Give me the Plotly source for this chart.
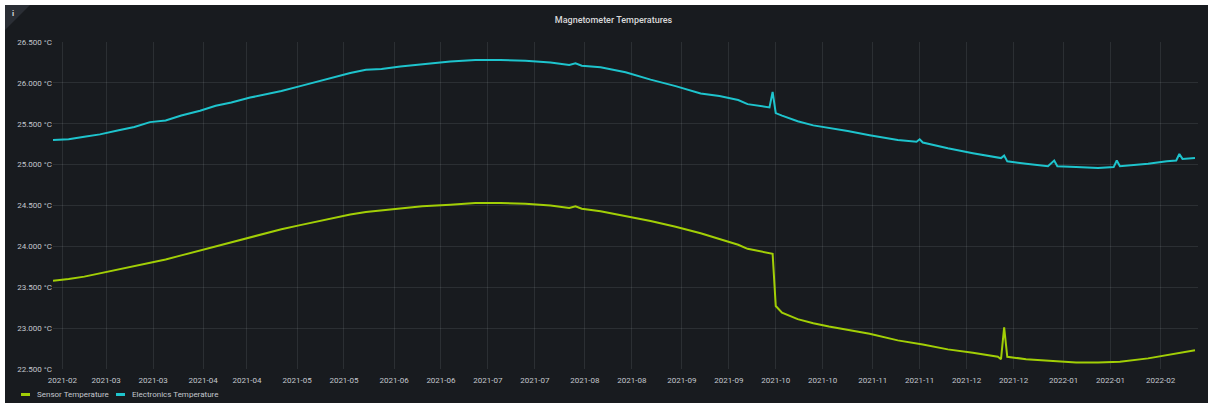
import plotly.graph_objects as go

# ---------------- data ----------------
dates = [
    "2021-02-12", "2021-02-17", "2021-02-22", "2021-02-27", "2021-03-05", "2021-03-10",
    "2021-03-15", "2021-03-20", "2021-03-25", "2021-03-31", "2021-04-05", "2021-04-10",
    "2021-04-16", "2021-04-21", "2021-04-26", "2021-05-02", "2021-05-07", "2021-05-12",
    "2021-05-18", "2021-05-23", "2021-05-28", "2021-06-03", "2021-06-10", "2021-06-19",
    "2021-06-27", "2021-07-05", "2021-07-13", "2021-07-21", "2021-07-27", "2021-07-29",
    "2021-07-31", "2021-08-06", "2021-08-14", "2021-08-22", "2021-08-30", "2021-09-07",
    "2021-09-13", "2021-09-19", "2021-09-22", "2021-09-26", "2021-09-29", "2021-09-30",
    "2021-10-01", "2021-10-03", "2021-10-08", "2021-10-13", "2021-10-18", "2021-10-24",
    "2021-10-31", "2021-11-09", "2021-11-15", "2021-11-16", "2021-11-17", "2021-11-25",
    "2021-12-03", "2021-12-11", "2021-12-12", "2021-12-13", "2021-12-14", "2021-12-20",
    "2021-12-27", "2021-12-29", "2021-12-30", "2022-01-05", "2022-01-12", "2022-01-17",
    "2022-01-18", "2022-01-19", "2022-01-28", "2022-02-03", "2022-02-06", "2022-02-07",
    "2022-02-08", "2022-02-12",
]

electronics_temp = [
    25.30, 25.31, 25.34, 25.37, 25.42, 25.46,
    25.52, 25.54, 25.60, 25.66, 25.72, 25.76,
    25.82, 25.86, 25.90, 25.96, 26.01, 26.06,
    26.12, 26.16, 26.17, 26.20, 26.23, 26.26,
    26.28, 26.28, 26.27, 26.25, 26.22, 26.24,
    26.21, 26.19, 26.13, 26.04, 25.96, 25.87,
    25.84, 25.79, 25.74, 25.72, 25.70, 25.89,
    25.63, 25.60, 25.53, 25.48, 25.45, 25.41,
    25.36, 25.30, 25.28, 25.31, 25.27, 25.20,
    25.14, 25.09, 25.08, 25.11, 25.04, 25.01,
    24.98, 25.05, 24.98, 24.97, 24.96, 24.97,
    25.05, 24.98, 25.01, 25.04, 25.05, 25.13,
    25.07, 25.08,
]

sensor_temp = [
    23.58, 23.60, 23.63, 23.67, 23.72, 23.76,
    23.80, 23.84, 23.89, 23.95, 24.00, 24.05,
    24.11, 24.16, 24.21, 24.26, 24.30, 24.34,
    24.39, 24.42, 24.44, 24.47, 24.49, 24.51,
    24.53, 24.53, 24.52, 24.50, 24.47, 24.49,
    24.46, 24.43, 24.37, 24.31, 24.24, 24.16,
    24.09, 24.02, 23.97, 23.94, 23.92, 23.91,
    23.27, 23.19, 23.11, 23.06, 23.02, 22.98,
    22.93, 22.85, 22.81, 22.81, 22.80, 22.74,
    22.70, 22.65, 22.62, 23.01, 22.65, 22.62,
    22.60, 22.60, 22.59, 22.58, 22.58, 22.59,
    22.59, 22.59, 22.63, 22.67, 22.69, 22.70,
    22.70, 22.73,
]

x_tick_dates = [
    "2021-02-15", "2021-03-01", "2021-03-16", "2021-04-01", "2021-04-15", "2021-05-01",
    "2021-05-16", "2021-06-01", "2021-06-16", "2021-07-01", "2021-07-16", "2021-08-01",
    "2021-08-16", "2021-09-01", "2021-09-16", "2021-10-01", "2021-10-16", "2021-11-01",
    "2021-11-16", "2021-12-01", "2021-12-16", "2022-01-01", "2022-01-16", "2022-02-01",
]
y_tick_vals = [22.5, 23.0, 23.5, 24.0, 24.5, 25.0, 25.5, 26.0, 26.5]
y_tick_text = [f"{v:.3f} °C" for v in y_tick_vals]

series_names = ["Sensor Temperature", "Electronics Temperature"]
series_colors = ["#a2cf06", "#1ec4cd"]

# ---------------- layout helpers ----------------
W, H = 1208, 403
ML, MR, MT, MB = 53, 10, 42, 34
PW, PH = W - ML - MR, H - MT - MB


def px_x(px):
    return (px - ML) / PW


def px_y(py):
    return (H - MB - py) / PH


BG = "#181b1f"
GRID = "rgba(240,250,255,0.09)"
TXT = "#c3c7ce"
FONT = "Roboto"

fig = go.Figure()
fig.add_trace(go.Scatter(x=dates, y=sensor_temp, mode="lines", name=series_names[0],
                         line=dict(color=series_colors[0], width=2)))
fig.add_trace(go.Scatter(x=dates, y=electronics_temp, mode="lines", name=series_names[1],
                         line=dict(color=series_colors[1], width=2)))

fig.update_layout(
    width=W, height=H,
    margin=dict(l=ML, r=MR, t=MT, b=MB, autoexpand=False),
    paper_bgcolor=BG, plot_bgcolor=BG,
    showlegend=False,
    font=dict(family=FONT, size=8, color=TXT),
    title=dict(text="Magnetometer Temperatures", x=613.5 / W, xref="container", xanchor="center",
               y=1 - 20 / H, yref="container", yanchor="middle",
               font=dict(family=FONT, size=9, color="#d8d9da", weight=500)),
)

fig.update_xaxes(
    type="date", range=["2021-02-12 00:00", "2022-02-12 23:00"],
    tickvals=x_tick_dates, tickformat="%Y-%m",
    showgrid=True, gridcolor=GRID, gridwidth=1,
    zeroline=False, showline=False, ticks="",
    ticklabelstandoff=5, automargin=False,
    tickfont=dict(family=FONT, size=8, color=TXT),
)
fig.update_yaxes(
    range=[22.5, 26.5], tickvals=y_tick_vals, ticktext=y_tick_text,
    showgrid=True, gridcolor=GRID, gridwidth=1,
    zeroline=False, showline=False, ticks="", automargin=False,
    tickfont=dict(family=FONT, size=8, color=TXT),
)

shapes = []
annotations = []
# white frame strips around the panel (top and left)
shapes.append(dict(type="rect", xref="paper", yref="paper", x0=px_x(0), x1=px_x(5),
                   y0=px_y(H), y1=px_y(0), fillcolor="#ffffff", line=dict(width=0), layer="above"))
shapes.append(dict(type="rect", xref="paper", yref="paper", x0=px_x(0), x1=px_x(W),
                   y0=px_y(5), y1=px_y(0), fillcolor="#ffffff", line=dict(width=0), layer="above"))
# panel info corner
shapes.append(dict(type="path", xref="paper", yref="paper",
                   path=f"M {px_x(5)},{px_y(5)} L {px_x(30)},{px_y(5)} L {px_x(5)},{px_y(30)} Z",
                   fillcolor="#2a2e35", line=dict(width=0), layer="above"))
annotations.append(dict(text="i", xref="paper", yref="paper", x=px_x(12.5), y=px_y(13),
                        xanchor="center", yanchor="middle", showarrow=False,
                        font=dict(family=FONT, size=8, color="#d8d9da", weight=700)))

# custom legend (Grafana-style short bars)
legend_items = [(21, 35), (116, 130)]
for (bx, tx), name, col in zip(legend_items, series_names, series_colors):
    shapes.append(dict(type="rect", xref="paper", yref="paper", x0=px_x(bx), x1=px_x(bx + 9),
                       y0=px_y(396), y1=px_y(393), fillcolor=col, line=dict(width=0)))
    annotations.append(dict(text=name, xref="paper", yref="paper", x=px_x(tx), y=px_y(394.5),
                            xanchor="left", yanchor="middle", showarrow=False,
                            font=dict(family=FONT, size=8, color=TXT)))

fig.update_layout(shapes=shapes, annotations=annotations)

# remove the browser's default 8px page margin so the figure sits at the top-left corner
fig.write_html("out.html",
               config={"displayModeBar": False},
               post_script="document.body.style.margin='0';document.body.style.overflow='hidden';")
